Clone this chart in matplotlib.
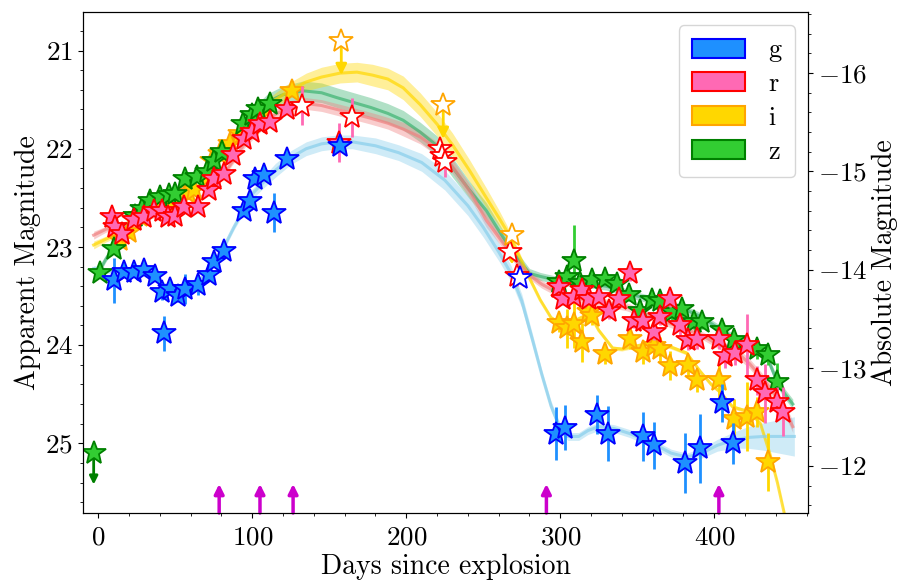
import matplotlib
matplotlib.use("Agg")
import matplotlib.pyplot as plt
import numpy as np
from matplotlib.patches import Patch
from matplotlib.ticker import MultipleLocator

plt.rcParams["font.family"] = "serif"
plt.rcParams["font.serif"] = ["cmr10"]
plt.rcParams["mathtext.fontset"] = "cm"
plt.rcParams["axes.formatter.use_mathtext"] = True

DIST_MOD = 37.23  # apparent - absolute

# ---- photometry: filled detections ----
g_t = [10, 16.4, 23, 29.4, 37, 41.3, 42.4, 46.8, 52, 56.5, 65, 71.6, 75, 81.4, 94.4, 98.7, 102, 107.3,
       113.8, 122.5, 157, 297.4, 302.8, 324, 330.7, 354, 360.6, 380.7, 390.5, 405, 412]
g_m = [23.34, 23.26, 23.26, 23.23, 23.30, 23.46, 23.88, 23.43, 23.50, 23.43, 23.39, 23.29, 23.15, 23.04, 22.63,
       22.53, 22.31, 22.27, 22.65, 22.10, 21.97, 24.90, 24.84, 24.71, 24.90, 24.93, 25.02, 25.20, 25.05, 24.59, 25.00]
g_e = [0.23, 0.04, 0.04, 0.04, 0.05, 0.08, 0.18, 0.05, 0.06, 0.15, 0.10, 0.04, 0.05, 0.05, 0.05,
       0.05, 0.05, 0.05, 0.20, 0.04, 0.05, 0.27, 0.23, 0.20, 0.28, 0.25, 0.24, 0.31, 0.35, 0.19, 0.21]

r_t = [8.9, 11, 15.4, 23, 29.4, 35.9, 41.3, 45, 50, 55.4, 65, 71.6, 75, 81.4, 87.4, 94.4, 99.8, 105, 111.7,
       122.5, 156, 299, 302, 308.6, 314, 318.4, 325, 331.4, 338, 345.5, 347.6, 354, 360.6, 365, 371.4,
       378, 383, 388.7, 402.8, 407, 413.6, 421, 427.7, 433, 440.7, 444.6]
r_m = [22.70, 22.80, 22.87, 22.73, 22.70, 22.63, 22.63, 22.70, 22.68, 22.59, 22.59, 22.42, 22.31, 22.26,
       22.06, 21.90, 21.83, 21.75, 21.73, 21.60, 21.94, 23.41, 23.53, 23.51, 23.44, 23.53, 23.51, 23.65,
       23.53, 23.27, 23.75, 23.75, 23.87, 23.71, 23.53, 23.80, 23.95, 23.94, 23.94, 24.11, 24.08, 24.00,
       24.36, 24.49, 24.58, 24.68]
r_e = [0.10, 0.05, 0.05, 0.04, 0.04, 0.04, 0.04, 0.04, 0.04, 0.04, 0.04, 0.04, 0.04, 0.04, 0.04, 0.04,
       0.04, 0.04, 0.04, 0.04, 0.20, 0.06, 0.06, 0.06, 0.06, 0.06, 0.06, 0.08, 0.06, 0.08, 0.08, 0.08,
       0.08, 0.08, 0.08, 0.10, 0.10, 0.10, 0.10, 0.12, 0.12, 0.32, 0.15, 0.30, 0.15, 0.25]

i_t = [14.3, 20, 27, 38, 48, 58, 61.9, 70, 73.8, 79, 85.7, 92, 99, 105, 125.8,
       299, 304.3, 308.6, 314, 318.4, 320.6, 329, 345.5, 354, 360.6, 365, 371.4, 383, 388.7,
       402.8, 412.5, 421, 427.7, 435]
i_m = [22.93, 22.85, 22.68, 22.60, 22.58, 22.45, 22.42, 22.30, 22.12, 22.05, 21.95, 21.85, 21.75, 21.66,
       21.41, 23.77, 23.83, 23.78, 23.97, 23.66, 23.70, 24.09, 23.94, 24.07, 24.01, 24.04, 24.21, 24.20,
       24.36, 24.36, 24.75, 24.73, 24.68, 25.19]
i_e = [0.05, 0.05, 0.05, 0.05, 0.05, 0.05, 0.05, 0.05, 0.05, 0.05, 0.05, 0.05, 0.05, 0.05, 0.05,
       0.10, 0.20, 0.25, 0.20, 0.08, 0.10, 0.10, 0.10, 0.12, 0.08, 0.12, 0.15, 0.10, 0.12, 0.20, 0.20,
       0.35, 0.15, 0.30]

z_t = [1.2, 10, 24, 28.4, 33.8, 40, 45.6, 50, 56.5, 64, 70.6, 75, 80.3, 94, 99.5, 104, 111.7,
       299, 304.3, 308.6, 313, 320.6, 329, 336.8, 344.4, 352, 359.5, 365, 372.5, 379, 386.8, 392,
       405.3, 412.5, 427.7, 435, 440.6]
z_m = [23.27, 23.02, 22.68, 22.61, 22.53, 22.49, 22.47, 22.46, 22.31, 22.29, 22.24, 22.12, 22.03, 21.75,
       21.66, 21.60, 21.54, 23.36, 23.31, 23.14, 23.37, 23.34, 23.33, 23.38, 23.49, 23.65, 23.54, 23.55,
       23.66, 23.63, 23.76, 23.76, 23.85, 23.95, 24.04, 24.10, 24.38]
z_e = [0.04, 0.04, 0.04, 0.04, 0.04, 0.04, 0.04, 0.04, 0.04, 0.04, 0.04, 0.04, 0.04, 0.04, 0.04, 0.04,
       0.04, 0.06, 0.06, 0.36, 0.06, 0.06, 0.06, 0.06, 0.06, 0.08, 0.06, 0.08, 0.08, 0.08, 0.08, 0.08,
       0.10, 0.10, 0.10, 0.10, 0.20]

# ---- photometry from the second instrument (open markers) ----
r_open_t = [132, 164.7, 222, 223.3, 225.3, 267.5, 272]
r_open_m = [21.56, 21.68, 22.00, 22.07, 22.14, 23.05, 23.30]
r_open_e = [0.20, 0.20, 0.10, 0.10, 0.15, 0.08, 0.10]
g_open_t = [274]
g_open_m = [23.32]
g_open_e = [0.06]

# ---- upper limits: (epoch, mag, arrow length) ----
i_lim_t = [157.8, 224, 268.6]
i_lim_m = [20.90, 21.55, 22.88]
i_lim_len = [0.35, 0.35, 0.30]
z_lim_t = [-3]
z_lim_m = [25.10]
z_lim_len = [0.32]

# spectral epochs
spec_t = [78.5, 105, 126.5, 291, 403]

# ---- smoothed light-curve models (epoch, mag, 1-sigma) ----
g_mod_t = [-3, 5, 15, 25, 35, 42, 50, 57, 65, 72, 80, 88, 95, 100, 108, 115, 125, 135, 145, 155, 165,
           180, 195, 210, 225, 240, 250, 260, 268, 275, 282, 288, 294, 300, 305, 312, 318, 325, 335,
           345, 360, 372, 382, 392, 402, 412, 422, 432, 442, 452]
g_mod_m = [23.22, 23.24, 23.26, 23.25, 23.30, 23.38, 23.45, 23.44, 23.36, 23.22, 23.05, 22.80, 22.60,
           22.46, 22.33, 22.22, 22.09, 22.00, 21.95, 21.93, 21.93, 21.97, 22.04, 22.14, 22.32, 22.58,
           22.80, 23.05, 23.27, 23.55, 23.95, 24.30, 24.62, 24.85, 24.93, 24.93, 24.87, 24.83, 24.85,
           24.90, 25.00, 25.10, 25.14, 25.10, 25.02, 24.97, 24.94, 24.93, 24.93, 24.93]
g_mod_s = [0.03, 0.03, 0.03, 0.03, 0.03, 0.03, 0.03, 0.03, 0.03, 0.03, 0.03, 0.03, 0.04, 0.05, 0.06,
           0.07, 0.07, 0.07, 0.07, 0.07, 0.07, 0.08, 0.08, 0.09, 0.10, 0.10, 0.10, 0.09, 0.08, 0.07,
           0.06, 0.05, 0.05, 0.05, 0.04, 0.04, 0.04, 0.04, 0.04, 0.04, 0.04, 0.04, 0.04, 0.05, 0.06,
           0.08, 0.11, 0.14, 0.17, 0.20]

r_mod_t = [-3, 5, 15, 25, 35, 45, 55, 65, 75, 85, 95, 105, 115, 125, 135, 145, 155, 165, 177, 188, 198,
           209, 220, 230, 242, 252, 260, 268, 275, 282, 288, 294, 300, 310, 320, 330, 343, 355, 368, 380,
           392, 403, 413, 423, 434, 445, 451]
r_mod_m = [22.88, 22.82, 22.78, 22.73, 22.68, 22.66, 22.60, 22.52, 22.38, 22.18, 21.95, 21.78, 21.65,
           21.57, 21.54, 21.56, 21.60, 21.64, 21.69, 21.74, 21.80, 21.88, 22.00, 22.18, 22.45, 22.73,
           22.90, 23.07, 23.20, 23.31, 23.38, 23.43, 23.47, 23.52, 23.55, 23.57, 23.61, 23.68, 23.76,
           23.83, 23.90, 24.00, 24.05, 24.19, 24.39, 24.63, 24.83]
r_mod_s = [0.04, 0.03, 0.03, 0.03, 0.03, 0.03, 0.03, 0.03, 0.03, 0.03, 0.04, 0.05, 0.05, 0.06, 0.06,
           0.06, 0.06, 0.06, 0.06, 0.06, 0.07, 0.07, 0.07, 0.07, 0.07, 0.07, 0.06, 0.05, 0.05, 0.04,
           0.04, 0.04, 0.04, 0.04, 0.04, 0.04, 0.04, 0.04, 0.04, 0.04, 0.04, 0.04, 0.05, 0.05, 0.05,
           0.06, 0.06]

i_mod_t = [-3, 5, 15, 25, 35, 45, 55, 65, 75, 85, 95, 105, 115, 125, 135, 145, 157, 168, 178, 188, 198,
           209, 220, 230, 241, 252, 260, 265, 270, 275, 281, 287, 294, 300, 306, 312, 319, 325, 334, 340,
           352, 363, 372, 382, 391, 398, 404, 412, 423, 430, 436, 441, 446]
i_mod_m = [22.98, 22.92, 22.85, 22.72, 22.62, 22.57, 22.48, 22.38, 22.20, 21.98, 21.80, 21.63, 21.50,
           21.40, 21.32, 21.27, 21.23, 21.22, 21.25, 21.29, 21.38, 21.55, 21.75, 21.96, 22.22, 22.50,
           22.70, 22.83, 22.98, 23.15, 23.35, 23.54, 23.72, 23.78, 23.80, 23.73, 23.68, 23.85, 24.03,
           24.04, 24.00, 23.98, 24.02, 24.08, 24.27, 24.40, 24.48, 24.63, 24.68, 24.80, 25.10, 25.40,
           25.75]
i_mod_s = [0.04, 0.03, 0.03, 0.03, 0.03, 0.03, 0.03, 0.03, 0.03, 0.04, 0.05, 0.06, 0.07, 0.08, 0.09,
           0.10, 0.10, 0.10, 0.11, 0.11, 0.12, 0.12, 0.12, 0.12, 0.11, 0.10, 0.08, 0.06, 0.05, 0.04,
           0.03, 0.02, 0.02, 0.02, 0.02, 0.02, 0.02, 0.02, 0.02, 0.02, 0.02, 0.02, 0.02, 0.02, 0.02,
           0.02, 0.02, 0.02, 0.02, 0.02, 0.02, 0.02, 0.02]

z_mod_t = [0, 5, 10, 20, 30, 40, 50, 58, 65, 72, 80, 88, 95, 102, 110, 120, 133, 145, 155, 166, 177,
           188, 198, 209, 220, 230, 241, 252, 262, 270, 280, 287, 298, 310, 320, 330, 340, 350, 360, 370,
           380, 390, 400, 410, 420, 428, 435, 441, 446, 451]
z_mod_m = [23.26, 23.12, 23.00, 22.75, 22.60, 22.50, 22.43, 22.33, 22.28, 22.20, 22.05, 21.88, 21.74,
           21.62, 21.52, 21.45, 21.41, 21.43, 21.48, 21.53, 21.58, 21.64, 21.71, 21.83, 21.97, 22.19,
           22.42, 22.63, 22.88, 23.07, 23.27, 23.30, 23.34, 23.37, 23.38, 23.40, 23.45, 23.50, 23.54,
           23.58, 23.63, 23.70, 23.80, 23.90, 23.98, 24.05, 24.15, 24.38, 24.50, 24.60]
z_mod_s = [0.03, 0.03, 0.03, 0.03, 0.03, 0.03, 0.03, 0.03, 0.03, 0.03, 0.03, 0.04, 0.05, 0.06, 0.08,
           0.09, 0.10, 0.10, 0.10, 0.10, 0.10, 0.10, 0.10, 0.10, 0.10, 0.10, 0.09, 0.08, 0.07, 0.06,
           0.05, 0.04, 0.04, 0.04, 0.04, 0.04, 0.04, 0.04, 0.04, 0.04, 0.04, 0.04, 0.04, 0.04, 0.04,
           0.04, 0.04, 0.05, 0.05, 0.05]

bands = ["g", "r", "i", "z"]
face = {"g": "#1E90FF", "r": "#FF69B4", "i": "#FFD700", "z": "#32CD32"}
edge = {"g": "#0000FF", "r": "#FF0000", "i": "#FFA500", "z": "#008000"}
errc = {"g": "#1E90FF", "r": "#FF69B4", "i": "#FFD700", "z": "#32CD32"}
modc = {"g": "#87CEEB", "r": "#F08080", "i": "#FFD700", "z": "#3CB371"}

data = {
    "g": (g_t, g_m, g_e), "r": (r_t, r_m, r_e),
    "i": (i_t, i_m, i_e), "z": (z_t, z_m, z_e),
}
models = {
    "g": (g_mod_t, g_mod_m, g_mod_s), "r": (r_mod_t, r_mod_m, r_mod_s),
    "i": (i_mod_t, i_mod_m, i_mod_s), "z": (z_mod_t, z_mod_m, z_mod_s),
}

fig = plt.figure(figsize=(9.01, 5.83), dpi=100)
ax = fig.add_axes([0.092, 0.12, 0.805, 0.859])

# models underneath the points
for b in ["z", "i", "r", "g"]:
    t, m, s = (np.asarray(v) for v in models[b])
    ax.fill_between(t, m - s, m + s, color=modc[b], alpha=0.4, lw=0, zorder=1)
    ax.plot(t, m, color=modc[b], lw=2.2, alpha=0.7, zorder=1.5)

star = dict(marker="*", ms=18, mew=1.3, ls="none", elinewidth=2, capsize=0)
zorders = {"i": 3, "z": 4, "r": 5, "g": 6}
for b in ["i", "z", "r", "g"]:
    t, m, e = data[b]
    ax.errorbar(t, m, yerr=e, mfc=face[b], mec=edge[b], ecolor=errc[b],
                zorder=zorders[b], **star)

ax.errorbar(r_open_t, r_open_m, yerr=r_open_e, mfc="white", mec=edge["r"],
            ecolor=errc["r"], zorder=7, **star)
ax.errorbar(g_open_t, g_open_m, yerr=g_open_e, mfc="white", mec=edge["g"],
            ecolor=errc["g"], zorder=7, **star)

# upper limits: open/filled star with a downward arrow
for t, m, L in zip(i_lim_t, i_lim_m, i_lim_len):
    ax.annotate("", xy=(t, m + L), xytext=(t, m),
                arrowprops=dict(arrowstyle="-|>", color="#FFD700", lw=2, mutation_scale=16,
                                shrinkA=0, shrinkB=0), zorder=7)
ax.plot(i_lim_t, i_lim_m, marker="*", ms=18, mew=1.3, ls="none", mfc="white",
        mec=edge["i"], zorder=8)
for t, m, L in zip(z_lim_t, z_lim_m, z_lim_len):
    ax.annotate("", xy=(t, m + L), xytext=(t, m),
                arrowprops=dict(arrowstyle="-|>", color="#008000", lw=2, mutation_scale=12,
                                shrinkA=0, shrinkB=0), zorder=7)
ax.plot(z_lim_t, z_lim_m, marker="*", ms=18, mew=1.3, ls="none", mfc=face["z"],
        mec=edge["z"], zorder=8)

# spectroscopy epochs along the bottom axis
for t in spec_t:
    ax.annotate("", xy=(t, 0.058), xytext=(t, 0.0),
                xycoords=ax.get_xaxis_transform(), textcoords=ax.get_xaxis_transform(),
                arrowprops=dict(arrowstyle="-|>", color="#CC00CC", lw=2.5, mutation_scale=14,
                                shrinkA=0, shrinkB=0), zorder=9)

ax.set_xlim(-10, 461)
ax.set_ylim(25.71, 20.61)
ax.xaxis.set_major_locator(MultipleLocator(100))
ax.xaxis.set_minor_locator(MultipleLocator(20))
ax.yaxis.set_major_locator(MultipleLocator(1))
ax.yaxis.set_minor_locator(MultipleLocator(0.2))
ax.tick_params(labelsize=19.5)
ax.tick_params(axis="x", pad=6)
ax.set_xlabel("Days since explosion", fontsize=20, labelpad=3)
ax.set_ylabel("Apparent Magnitude", fontsize=20, labelpad=3)

ax2 = ax.twinx()
lo, hi = ax.get_ylim()
ax2.set_ylim(lo - DIST_MOD, hi - DIST_MOD)
ax2.yaxis.set_major_locator(MultipleLocator(1))
ax2.yaxis.set_minor_locator(MultipleLocator(0.2))
ax2.tick_params(labelsize=19.5)
ax2.set_ylabel("Absolute Magnitude", fontsize=20, labelpad=3)

handles = [Patch(facecolor=face[b], edgecolor=edge[b], lw=1.5) for b in bands]
ax.legend(handles, bands, loc="upper right", fontsize=19, handlelength=2.0,
          handleheight=0.72, labelspacing=0.38, borderpad=0.5, handletextpad=0.9)

fig.savefig("out.png", dpi=100)
